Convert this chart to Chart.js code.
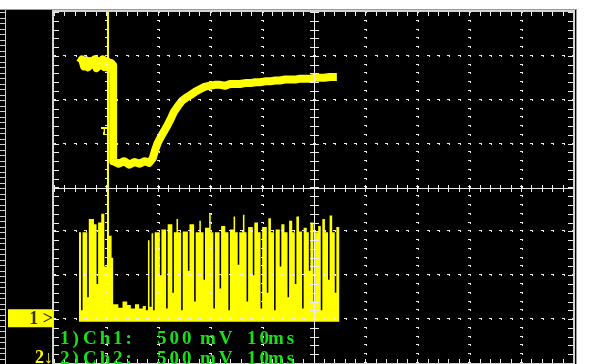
<!DOCTYPE html>
<html>
<head>
<meta charset="utf-8">
<script src="https://cdn.jsdelivr.net/npm/chart.js@4.4.0/dist/chart.umd.min.js"></script>
<style>
html,body{margin:0;padding:0;background:#fff;overflow:hidden}
#scope{display:block}
</style>
</head>
<body>
<canvas id="scope" width="593" height="364"></canvas>
<script>
// ch1 trace, time in ms, level in V
const ch1Time = [-45.0,-44.6,-44.2,-43.8,-43.4,-43.0,-42.6,-42.2,-41.8,-41.4,-41.0,-40.6,-40.2,-39.8,-39.4,-39.0,-38.6,
  -38.6,-37.5,-36.5,-35.5,-34.5,-33.5,-32.5,-31.7,-31.0,
  -30.5,-30.0,-29.2,-28.4,-27.6,-26.9,-26.1,-25.3,-24.6,-23.8,-22.8,-21.9,-20.9,-19.9,
  -19.0,-18.0,-17.0,-16.1,-15.0,-14.2,-13.2,-12.2,-11.2,-10.3,-9.3,-8.4,-7.4,
  -6.5,-5.5,-4.5,-3.5,-2.6,-1.3,-0.7,0.3,1.0,2.0,3.2,4.5];
const ch1Volt = [1.42,1.46,1.38,1.45,1.37,1.44,1.40,1.46,1.36,1.44,1.39,1.46,1.37,1.44,1.36,1.42,1.39,
  0.30,0.27,0.30,0.26,0.29,0.27,0.30,0.28,0.33,
  0.43,0.51,0.60,0.68,0.77,0.86,0.93,0.99,1.02,1.05,1.09,1.12,1.15,1.16,
  1.17,1.17,1.16,1.18,1.18,1.18,1.19,1.19,1.20,1.20,1.21,1.21,1.22,
  1.22,1.23,1.23,1.23,1.24,1.24,1.24,1.25,1.25,1.25,1.26,1.26];

// ch2 trace, level held from each time until the next one
const ch2Time = [-45.2,-44.8,-44.5,-43.6,-43.3,-42.3,-41.8,-41.5,-40.9,-40.3,-39.8,-39.4,-38.9,
  -38.6,-37.6,-36.8,-35.9,-35.2,-34.4,-33.6,-32.9,-32.3,-31.9,-31.6,-31.2,-30.9,
  -30.6,-29.6,-29.3,-28.4,-28.1,-27.2,-26.9,-26.4,-26.1,-25.5,-25.2,-24.2,-23.9,-23.0,
  -22.7,-22.0,-21.7,-21.2,-20.9,-20.1,-19.8,-19.3,-19.0,-18.1,-17.8,-17.0,-16.4,-16.1,
  -15.4,-15.1,-14.6,-14.3,-13.6,-13.3,-12.9,-12.6,-11.7,-11.4,-10.7,-10.2,-9.9,-9.0,
  -8.7,-8.2,-7.6,-7.3,-6.5,-6.2,-5.6,-5.0,-4.7,-4.1,-3.6,-3.3,-2.8,-2.2,-1.9,-1.3,
  -0.9,-0.6,0.0,0.3,0.9,1.4,1.7,2.2,2.8,3.1,3.6,4.1,4.4,5.0];
const ch2Volt = [-0.51,-1.40,-0.51,-1.25,-0.36,-0.42,-1.10,-0.40,-0.30,-0.90,2.00,-0.55,-0.80,
  -1.33,-1.37,-1.30,-1.34,-1.38,-1.33,-1.38,-1.35,-1.40,-0.60,-1.36,-0.52,-1.40,
  -0.51,-1.00,-0.48,-1.38,-0.42,-1.20,-0.51,-0.36,-0.51,-1.40,-0.50,-0.95,-0.42,-1.30,
  -0.51,-0.38,-0.51,-1.05,-0.46,-0.30,-0.51,-1.38,-0.51,-1.15,-0.44,-0.51,-1.40,-0.48,
  -0.33,-0.51,-0.88,-0.51,-0.31,-0.51,-1.30,-0.45,-1.00,-0.40,-0.51,-1.38,-0.45,-1.20,
  -0.35,-0.51,-1.40,-0.48,-0.90,-0.42,-0.51,-1.25,-0.38,-0.51,-1.10,-0.33,-0.50,-1.38,-0.46,-0.51,
  -0.95,-0.40,-1.30,-0.51,-0.44,-1.40,-0.36,-0.51,-1.05,-0.32,-0.51,-1.20,-0.45,-0.45];
const ch2Floor = -1.53;

// trigger point (ms, V), channel markers (V) and readout
const triggerTime = -40.4;
const triggerLevel = 0.66;
const ch1Marker = -1.49;
const ch2Marker = -1.94;
const channelLabels = ['1) Ch 1:', '2) Ch 2:'];
const voltsPerDiv = ['500 mV', '500 mV'];
const timePerDiv = ['10 ms', '10 ms'];

const YELLOW = '#ffff00';
const GRID = '#ececec';

function pairs(xs, ys) {
  return xs.map((x, i) => ({x: x, y: ys[i]}));
}

const scopeScreen = {
  id: 'scopeScreen',
  beforeDraw(chart) {
    const ctx = chart.ctx, a = chart.chartArea;
    ctx.save();
    ctx.fillStyle = '#fff';
    ctx.fillRect(0, 0, chart.width, chart.height);
    ctx.fillStyle = '#000';
    ctx.fillRect(0, a.top - 2, a.right + 3, chart.height);
    ctx.fillStyle = '#9a9a9a';
    ctx.fillRect(0, a.top - 3, a.right + 4, 1);
    ctx.fillRect(a.right + 3, a.top - 3, 1, chart.height);
    // ladder of the panel on the left
    ctx.fillStyle = '#d0d0d0';
    ctx.fillRect(5, a.top - 2, 1, chart.height);
    for (let y = a.top; y < chart.height; y += 5.5) ctx.fillRect(0, Math.round(y), 5, 1);
    ctx.restore();
  },
  afterDatasetsDraw(chart) {
    const ctx = chart.ctx, a = chart.chartArea;
    const xs = chart.scales.x, ys = chart.scales.y;
    const minorX = [], minorY = [];
    for (let t = xs.min; t <= xs.max + 1e-6; t += 2) minorX.push(Math.round(xs.getPixelForValue(t)));
    for (let v = ys.min; v <= ys.max + 1e-6; v += 0.1) minorY.push(Math.round(ys.getPixelForValue(v)));
    const x0 = Math.round(xs.getPixelForValue(0));
    const y0 = Math.round(ys.getPixelForValue(0));
    const dot = (px, py) => {
      ctx.fillRect(px - 1, py - 1, 3, 1);
      ctx.fillRect(px + 1, py, 1, 1);
    };
    ctx.save();
    ctx.fillStyle = GRID;
    // dotted divisions
    for (let t = -40; t <= 40; t += 10) {
      if (t === 0) continue;
      const px = Math.round(xs.getPixelForValue(t));
      minorY.forEach(py => dot(px, py));
    }
    for (let v = -1.5; v <= 1.5; v += 0.5) {
      if (Math.abs(v) < 1e-6) continue;
      const py = Math.round(ys.getPixelForValue(v));
      minorX.forEach(px => dot(px, py));
    }
    // centre axes
    ctx.fillRect(a.left, y0, a.right - a.left, 1);
    minorX.forEach(px => ctx.fillRect(px, y0 - 3, 1, 7));
    ctx.fillRect(x0, a.top, 1, a.bottom - a.top);
    minorY.forEach(py => ctx.fillRect(x0 - 4, py, 9, 1));
    // frame with ticks
    minorX.forEach(px => {
      ctx.fillRect(px, a.top, 1, 4);
      ctx.fillRect(px, a.bottom - 4, 1, 4);
    });
    minorY.forEach(py => {
      ctx.fillRect(a.left, py, 5, 1);
      ctx.fillRect(a.right - 5, py, 5, 1);
    });
    ctx.strokeStyle = '#d4d4d4';
    ctx.lineWidth = 2;
    ctx.strokeRect(a.left - 1, a.top - 1, a.right - a.left + 2, a.bottom - a.top + 2);
    // trigger mark
    const tx = Math.round(xs.getPixelForValue(triggerTime));
    const ty = Math.round(ys.getPixelForValue(triggerLevel));
    ctx.fillStyle = YELLOW;
    ctx.fillRect(tx - 3, ty - 3, 7, 2);
    ctx.fillRect(tx - 1, ty - 3, 2, 8);
    ctx.fillStyle = '#c03000';
    ctx.fillRect(tx - 1, ty - 1, 1, 3);
    ctx.restore();
  },
  afterDraw(chart) {
    const ctx = chart.ctx, a = chart.chartArea, ys = chart.scales.y;
    ctx.save();
    // channel markers
    const m1 = ys.getPixelForValue(ch1Marker);
    ctx.fillStyle = YELLOW;
    ctx.fillRect(8, m1 - 9, a.left - 9, 18);
    ctx.font = 'bold 18px "Liberation Serif"';
    ctx.textAlign = 'right';
    ctx.textBaseline = 'middle';
    ctx.fillStyle = '#3a3000';
    ctx.fillText('1 >', a.left - 1, m1 + 1);
    const m2 = ys.getPixelForValue(ch2Marker);
    ctx.fillStyle = YELLOW;
    ctx.fillText('2\u2193', a.left - 1, m2 + 1);
    // readout
    ctx.font = 'bold 19px "Liberation Serif"';
    ctx.textAlign = 'left';
    ctx.textBaseline = 'alphabetic';
    ctx.letterSpacing = '3px';
    ctx.fillStyle = '#18e018';
    const xPos = [60, 83, 113, 157, 200, 247, 268];
    const rows = [344, 364];
    channelLabels.forEach((lab, i) => {
      const parts = lab.split(' ').concat(voltsPerDiv[i].split(' '), timePerDiv[i].split(' '));
      parts.forEach((p, j) => ctx.fillText(p, xPos[j], rows[i]));
    });
    ctx.restore();
  }
};

new Chart(document.getElementById('scope'), {
  type: 'line',
  data: {
    datasets: [
      {
        label: 'Ch 1',
        data: pairs(ch1Time, ch1Volt),
        borderColor: YELLOW,
        borderWidth: 8,
        borderJoinStyle: 'round',
        pointRadius: 0,
        tension: 0,
        fill: false
      },
      {
        label: 'Ch 2',
        data: pairs(ch2Time, ch2Volt),
        borderColor: 'rgba(0,0,0,0)',
        backgroundColor: YELLOW,
        borderWidth: 0,
        pointRadius: 0,
        stepped: true,
        fill: {value: ch2Floor}
      }
    ]
  },
  options: {
    responsive: false,
    animation: false,
    devicePixelRatio: 1,
    layout: {padding: {left: 54, top: 12, right: 20, bottom: 1}},
    scales: {
      x: {type: 'linear', min: -50, max: 50, display: false},
      y: {min: -2, max: 2, display: false}
    },
    plugins: {
      legend: {display: false},
      tooltip: {enabled: false}
    }
  },
  plugins: [scopeScreen]
});
</script>
</body>
</html>
